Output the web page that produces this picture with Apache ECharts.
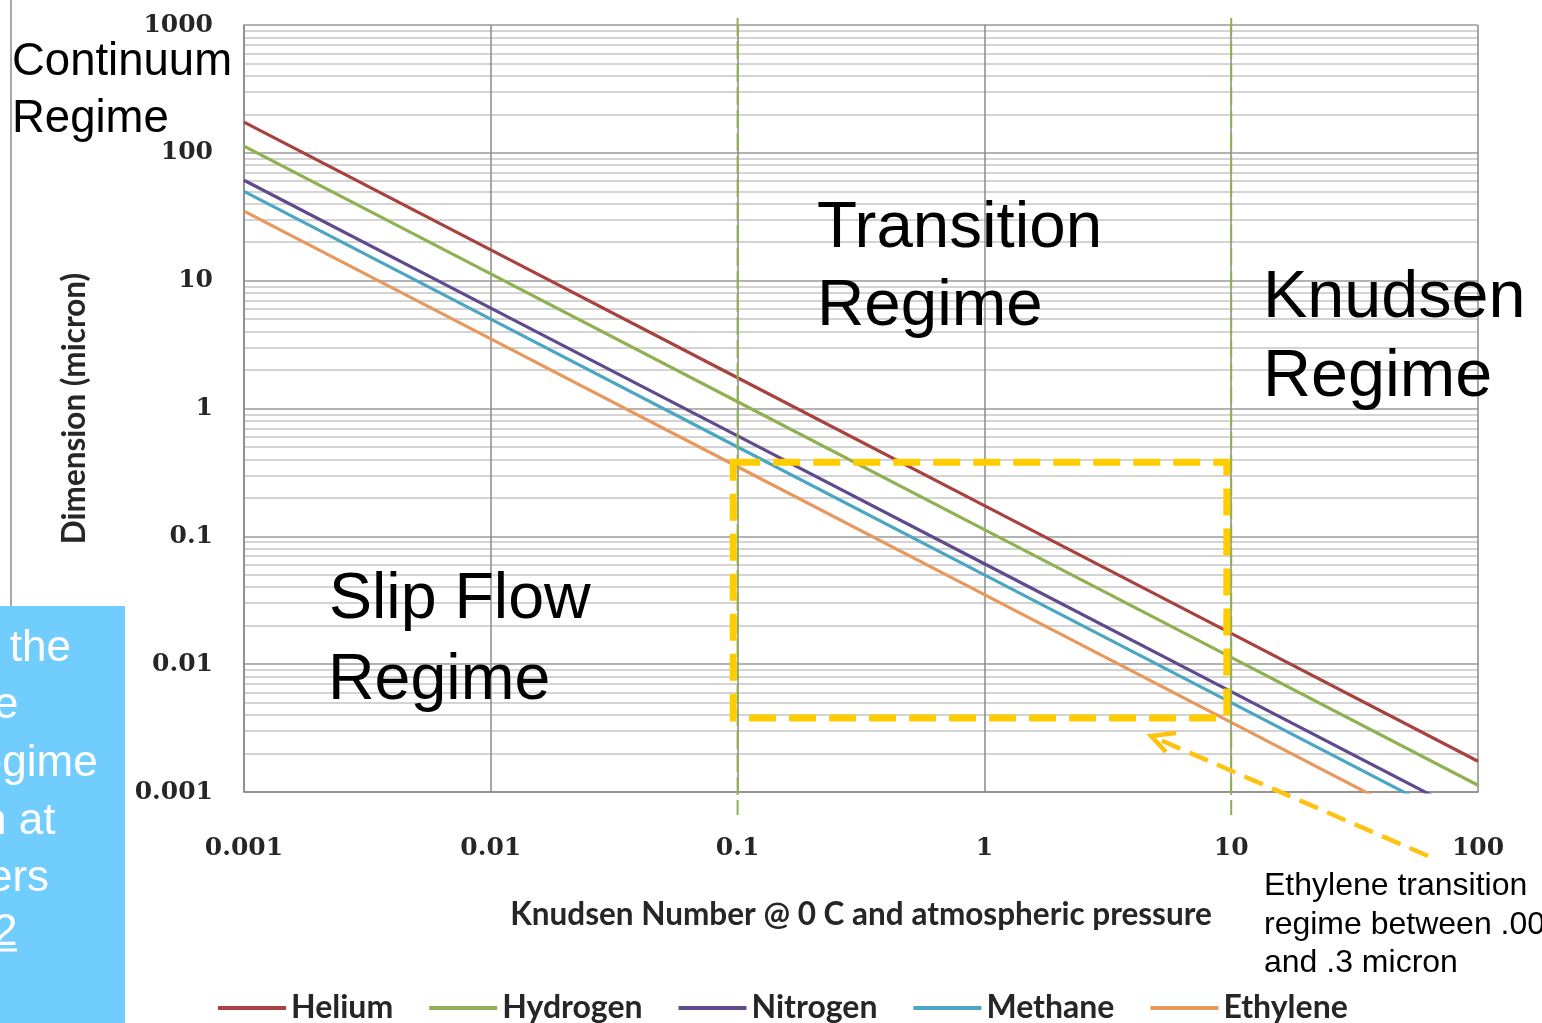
<!DOCTYPE html>
<html><head><meta charset="utf-8">
<script src="https://cdn.jsdelivr.net/npm/echarts@6/dist/echarts.min.js"></script>
<style>html,body{margin:0;padding:0;background:#fff;overflow:hidden}#c{width:1542px;height:1023px}</style>
</head><body><div id="c"></div>
<script>
// Knudsen number (x) and dimension in micron (y) for each gas
const knudsen  = [0.001, 0.01, 0.1, 1, 10, 100];
const helium   = [174, 17.4, 1.74, 0.174, 0.0174, 0.00174];
const hydrogen = [113, 11.3, 1.13, 0.113, 0.0113, 0.00113];
const nitrogen = [61, 6.1, 0.61, 0.061, 0.0061, 0.00061];
const methane  = [50, 5.0, 0.50, 0.050, 0.0050, 0.00050];
const ethylene = [35, 3.5, 0.35, 0.035, 0.0035, 0.00035];
const seriesNames = ['Helium', 'Hydrogen', 'Nitrogen', 'Methane', 'Ethylene'];
const xTickLabels = ['0.001', '0.01', '0.1', '1', '10', '100'];
const yTickLabels = ['0.001', '0.01', '0.1', '1', '10', '100', '1000'];
const regimeBounds = [0.1, 10];

const colors = ['#A8423F', '#8FB152', '#5F4A8E', '#4AA6C2', '#E8985C'];
const SERIF = '"DejaVu Serif"';
const SANS = 'Lato';
const ARIAL = '"Liberation Sans", Arial';

const chart = echarts.init(document.getElementById('c'), null, {renderer: 'canvas'});
const allData = [helium, hydrogen, nitrogen, methane, ethylene];

function fmt(labels, minExp) {
  return function (v) {
    const e = Math.round(Math.log10(v));
    return labels[e - minExp] || '';
  };
}

const option = {
  animation: false,
  backgroundColor: '#ffffff',
  color: colors,
  grid: {left: 244, right: 64, top: 25, bottom: 231, containLabel: false},
  legend: {
    data: seriesNames,
    left: 213, top: 987,
    icon: 'rect', itemWidth: 68, itemHeight: 4, itemGap: 36,
    textStyle: {fontFamily: SANS, fontWeight: 'bold', fontSize: 32, color: '#262626', padding: [0, 0, 0, 0]}
  },
  xAxis: {
    type: 'log', logBase: 10, min: 0.001, max: 100, splitNumber: 5,
    axisLine: {show: true, lineStyle: {color: '#8a8a8a', width: 1.5}},
    axisTick: {show: false},
    axisLabel: {formatter: fmt(xTickLabels, -3), margin: 44, fontFamily: SERIF, fontWeight: 'bold', fontSize: 25, color: '#262626'},
    splitLine: {show: true, lineStyle: {color: '#8a8a8a', width: 1.5}},
    name: 'Knudsen Number @ 0 C and atmospheric pressure',
    nameLocation: 'middle', nameGap: 107,
    nameTextStyle: {fontFamily: SANS, fontWeight: 'bold', fontSize: 31.5, color: '#262626'}
  },
  yAxis: {
    type: 'log', logBase: 10, min: 0.001, max: 1000, splitNumber: 6,
    axisLine: {show: true, lineStyle: {color: '#8a8a8a', width: 1.5}},
    axisTick: {show: false},
    axisLabel: {formatter: fmt(yTickLabels, -3), margin: 31, fontFamily: SERIF, fontWeight: 'bold', fontSize: 25, color: '#262626'},
    splitLine: {show: true, lineStyle: {color: '#9a9a9a', width: 1.5}},
    minorTick: {show: false, splitNumber: 9},
    minorSplitLine: {show: true, lineStyle: {color: '#c6c6c6', width: 1.5}},
    name: 'Dimension (micron)',
    nameLocation: 'middle', nameGap: 153, nameRotate: 90,
    nameTextStyle: {fontFamily: SANS, fontWeight: 'bold', fontSize: 31.5, color: '#262626'}
  },
  series: seriesNames.map(function (n, i) {
    return {
      name: n, type: 'line', showSymbol: false, symbol: 'none', clip: true,
      lineStyle: {width: 3.2, color: colors[i]},
      itemStyle: {color: colors[i]},
      data: knudsen.map(function (k, j) { return [k, allData[i][j]]; })
    };
  })
};
chart.setOption(option);

function px(x, y) { return chart.convertToPixel({gridIndex: 0}, [x, y]); }
function txt(text, x, y, size, fill, extra) {
  const s = Object.assign({
    text: text, x: 0, y: 0, font: size + 'px ' + ARIAL, fill: fill || '#000',
    textAlign: 'left', textVerticalAlign: 'middle', align: 'left', verticalAlign: 'middle'
  }, extra || {});
  return {type: 'text', x: x, y: y + 0.055 * size, style: s, z: 100};
}

const g = [];
// regime boundaries
regimeBounds.forEach(function (k) {
  const x = px(k, 1)[0];
  g.push({type: 'line', shape: {x1: x, y1: 18, x2: x, y2: 815},
    style: {stroke: '#8DB152', lineWidth: 2, lineDash: [18, 5]}, z: 50});
});
// ethylene transition box
const p1 = px(0.096, 0.38), p2 = px(9.6, 0.0038);
g.push({type: 'rect', shape: {x: p1[0], y: p1[1], width: p2[0] - p1[0], height: p2[1] - p1[1]},
  style: {fill: 'none', stroke: '#FFCC00', lineWidth: 7, lineDash: [27, 13]}, z: 60});
// arrow
g.push({type: 'line', shape: {x1: 1428, y1: 856, x2: 1158, y2: 739},
  style: {stroke: '#FFC20E', lineWidth: 4.5, lineDash: [20, 10]}, z: 60});
g.push({type: 'polyline', shape: {points: [[1176, 733], [1151, 736], [1166, 752]]},
  style: {stroke: '#FFC20E', lineWidth: 4.5, fill: 'none'}, z: 60});

// regime labels
g.push(txt('Continuum', 12, 60, 45.5));
g.push(txt('Regime', 12, 117, 45.5));
g.push(txt('Transition', 817, 225, 65.5));
g.push(txt('Regime', 817, 303.5, 65.5));
g.push(txt('Knudsen', 1263, 295, 66.5));
g.push(txt('Regime', 1263, 373.5, 66.5));
g.push(txt('Slip Flow', 329, 597, 64.5));
g.push(txt('Regime', 328, 678, 64.5));
g.push(txt('Ethylene transition', 1264, 884, 32));
g.push(txt('regime between .003', 1264, 923, 32));
g.push(txt('and .3 micron', 1264, 961, 32));

// slide fragments on the left
g.push({type: 'line', shape: {x1: 11, y1: 0, x2: 11, y2: 606}, style: {stroke: '#a8a8a8', lineWidth: 2}, z: 40});
g.push({type: 'rect', shape: {x: 0, y: 606, width: 125, height: 417}, style: {fill: '#70CDFE'}, z: 90});
const lines = [['n the', -27, 662], ['e', -6, 719], ['Regime', -54, 777], ['n at', -18, 835], ['ers', -12, 892], ['2', -7, 946]];
lines.forEach(function (l) { g.push(txt(l[0], l[1], l[2] - 15.5, 44, '#ffffff')); });
g.push({type: 'line', shape: {x1: 0, y1: 950, x2: 17, y2: 950}, style: {stroke: '#ffffff', lineWidth: 3}, z: 100});

chart.setOption({graphic: g});
</script></body></html>
